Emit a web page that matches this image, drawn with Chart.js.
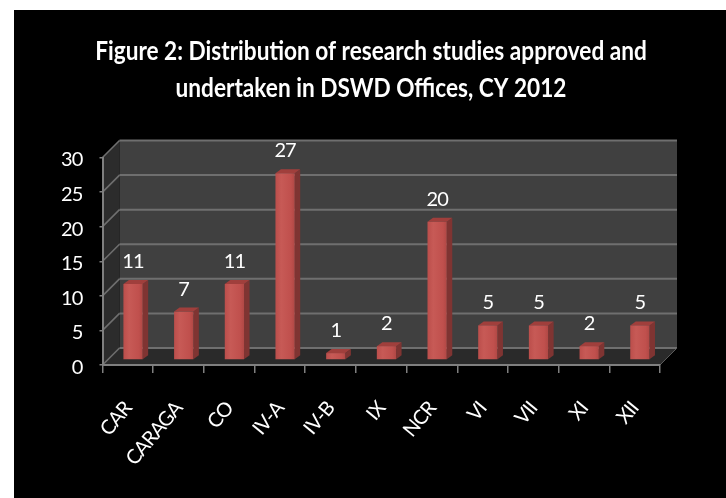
<!DOCTYPE html>
<html>
<head>
<meta charset="utf-8">
<style>
    html, body { margin: 0; padding: 0; background: #fff; }
    #wrap { width: 726px; height: 498px; }
</style>
<script src="https://cdn.jsdelivr.net/npm/chart.js@4"></script>
</head>
<body>
<div id="wrap"><canvas id="chart1" width="726" height="498"></canvas></div>
<script>
    var categories = ['CAR', 'CARAGA', 'CO', 'IV-A', 'IV-B', 'IX', 'NCR', 'VI', 'VII', 'XI', 'XII'];
    var studies = [11, 7, 11, 27, 1, 2, 20, 5, 5, 2, 5];
    var titleLines = ['Figure 2: Distribution of research studies approved and', 'undertaken in DSWD Offices, CY 2012'];

    var depth = 17;        // wall offset
    var barShiftX = 5.2;   // bars sit a little inside the floor
    var barShiftY = -5;
    var barSide = 5.5;
    var barTop = 4;
    var barPct = 0.38;

    function poly(ctx, pts, fill) {
        ctx.beginPath();
        ctx.moveTo(pts[0][0], pts[0][1]);
        for (var i = 1; i < pts.length; i++) ctx.lineTo(pts[i][0], pts[i][1]);
        ctx.closePath();
        ctx.fillStyle = fill;
        ctx.fill();
    }

    function line(ctx, x1, y1, x2, y2, color, w) {
        ctx.beginPath();
        ctx.moveTo(x1, y1);
        ctx.lineTo(x2, y2);
        ctx.strokeStyle = color;
        ctx.lineWidth = w;
        ctx.stroke();
    }

    var pagePlugin = {
        id: 'page',
        beforeDraw: function(chart) {
            var ctx = chart.ctx;
            ctx.save();
            ctx.fillStyle = '#000000';
            ctx.fillRect(14, 10, 712, 488);

            // no condensed face installed, so squeeze the title
            ctx.fillStyle = '#ffffff';
            ctx.font = 'bold 27px Lato, sans-serif';
            ctx.textAlign = 'center';
            ctx.textBaseline = 'alphabetic';
            ctx.translate(371, 0);
            ctx.scale(0.838, 1);
            ctx.fillText(titleLines[0], 0, 60);
            ctx.fillText(titleLines[1], 0, 97);
            ctx.restore();
            ctx.letterSpacing = '-0.9px';
        }
    };

    var wallsPlugin = {
        id: 'walls',
        beforeDraw: function(chart) {
            var ctx = chart.ctx, a = chart.chartArea, y = chart.scales.y;
            ctx.save();
            // back wall, side wall, floor
            poly(ctx, [[a.left + depth, a.top - depth], [a.right + depth, a.top - depth], [a.right + depth, a.bottom - depth], [a.left + depth, a.bottom - depth]], '#404040');
            poly(ctx, [[a.left, a.top], [a.left + depth, a.top - depth], [a.left + depth, a.bottom - depth], [a.left, a.bottom]], '#2c2c2c');
            poly(ctx, [[a.left, a.bottom], [a.left + depth, a.bottom - depth], [a.right + depth, a.bottom - depth], [a.right, a.bottom]], '#2a2a2a');
            y.ticks.forEach(function(t) {
                var py = y.getPixelForValue(t.value);
                line(ctx, a.left, py, a.left + depth, py - depth, '#6f6f6f', 1.6);
                line(ctx, a.left + depth, py - depth, a.right + depth, py - depth, '#6f6f6f', 2);
            });
            line(ctx, a.right, a.bottom, a.right + depth, a.bottom - depth, '#5a5a5a', 1);
            ctx.restore();
        }
    };

    var barsPlugin = {
        id: 'bars3d',
        beforeDatasetsDraw: function(chart) {
            var ctx = chart.ctx;
            ctx.save();
            ctx.translate(barShiftX, barShiftY);
            chart.getDatasetMeta(0).data.forEach(function(bar) {
                var l = bar.x - bar.width / 2, r = bar.x + bar.width / 2;
                poly(ctx, [[r, bar.y], [r + barSide, bar.y - barTop], [r + barSide, bar.base - barTop], [r, bar.base]], '#7f3432');
                poly(ctx, [[l, bar.y], [l + barSide, bar.y - barTop], [r + barSide, bar.y - barTop], [r, bar.y]], '#a03f3c');
            });
        },
        afterDatasetsDraw: function(chart) {
            var ctx = chart.ctx;
            ctx.fillStyle = '#ffffff';
            ctx.font = '20px Lato, sans-serif';
            ctx.textAlign = 'center';
            ctx.textBaseline = 'middle';
            chart.getDatasetMeta(0).data.forEach(function(bar, i) {
                ctx.fillText(studies[i], bar.x, bar.y - 22.5);
            });
            ctx.restore();
        }
    };

    function barFill(context) {
        var chart = context.chart, xs = chart.scales.x;
        if (!xs || !chart.chartArea) return '#c0504d';
        var half = (xs.width / categories.length) * barPct / 2;
        var cx = xs.getPixelForValue(context.dataIndex);
        var g = chart.ctx.createLinearGradient(cx - half, 0, cx + half, 0);
        g.addColorStop(0, '#bb4e4b');
        g.addColorStop(0.3, '#c75a56');
        g.addColorStop(0.8, '#c0504d');
        g.addColorStop(1, '#b04845');
        return g;
    }

    new Chart(document.getElementById('chart1'), {
        type: 'bar',
        data: {
            labels: categories,
            datasets: [{
                data: studies,
                backgroundColor: barFill,
                categoryPercentage: 1,
                barPercentage: barPct,
                clip: false
            }]
        },
        options: {
            responsive: false,
            animation: false,
            layout: { padding: { left: 52.5, right: 66, top: 157.5, bottom: 0 } },
            plugins: {
                legend: { display: false },
                tooltip: { enabled: false },
                title: { display: false }
            },
            scales: {
                x: {
                    afterFit: function(scale) { scale.height = 133; },
                    grid: { drawOnChartArea: false, drawTicks: true, tickLength: 8, color: '#7f7f7f', lineWidth: 1.5 },
                    border: { color: '#7f7f7f', width: 2 },
                    ticks: {
                        color: '#ffffff',
                        font: { family: 'Lato, sans-serif', size: 20 },
                        minRotation: 50,
                        maxRotation: 50,
                        autoSkip: false,
                        padding: 24
                    }
                },
                y: {
                    min: 0,
                    max: 30,
                    afterFit: function(scale) { scale.width = 50; },
                    grid: { drawOnChartArea: false, drawTicks: true, tickLength: 3, color: '#7f7f7f', lineWidth: 1.5 },
                    border: { color: '#7f7f7f', width: 2 },
                    ticks: {
                        stepSize: 5,
                        color: '#ffffff',
                        font: { family: 'Lato, sans-serif', size: 20 },
                        padding: 17,
                        labelOffset: 2.5
                    }
                }
            }
        },
        plugins: [pagePlugin, wallsPlugin, barsPlugin]
    });
</script>
</body>
</html>
